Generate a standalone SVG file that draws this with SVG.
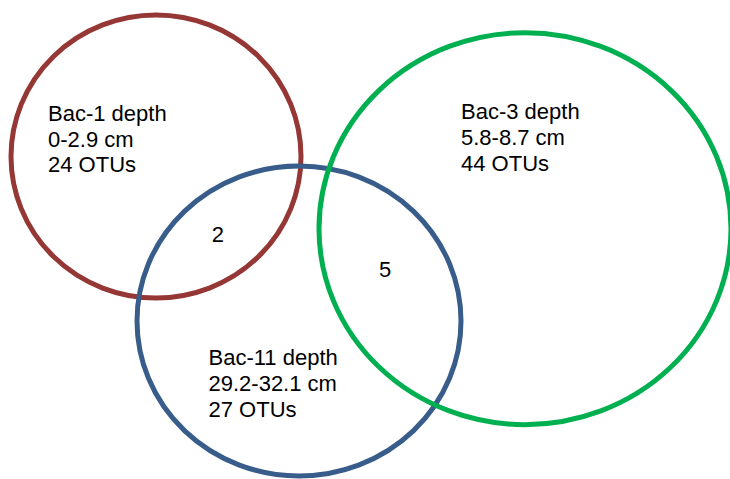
<svg xmlns="http://www.w3.org/2000/svg" width="730" height="479" viewBox="0 0 730 479">
<style>
.set{fill:none;stroke-width:5}
.lbl{font-family:"Liberation Sans",Arial,sans-serif;font-size:22px;fill:#000}
</style>
<rect width="730" height="479" fill="#fff"/>
<g id="bac1">
<ellipse class="set" cx="156" cy="156.5" rx="145" ry="141.5" stroke="#953735"/>
<text class="lbl" x="48" y="120.7"><tspan x="48">Bac-1 depth</tspan><tspan x="48" y="146.5">0-2.9 cm</tspan><tspan x="48" y="172.3">24 OTUs</tspan></text>
</g>
<g id="bac11">
<ellipse class="set" cx="299" cy="321" rx="162" ry="155" stroke="#385D8A"/>
<text class="lbl" x="208.5" y="365"><tspan x="208.5">Bac-11 depth</tspan><tspan x="208.5" y="391">29.2-32.1 cm</tspan><tspan x="208.5" y="417">27 OTUs</tspan></text>
</g>
<g id="bac3">
<ellipse class="set" cx="525" cy="228.7" rx="206" ry="196" stroke="#00B050"/>
<text class="lbl" x="461" y="119.3"><tspan x="461">Bac-3 depth</tspan><tspan x="461" y="145">5.8-8.7 cm</tspan><tspan x="461" y="170.5">44 OTUs</tspan></text>
</g>
<g id="overlaps">
<text class="lbl" x="211.7" y="241.7">2</text>
<text class="lbl" x="379" y="276.7">5</text>
</g>
</svg>
